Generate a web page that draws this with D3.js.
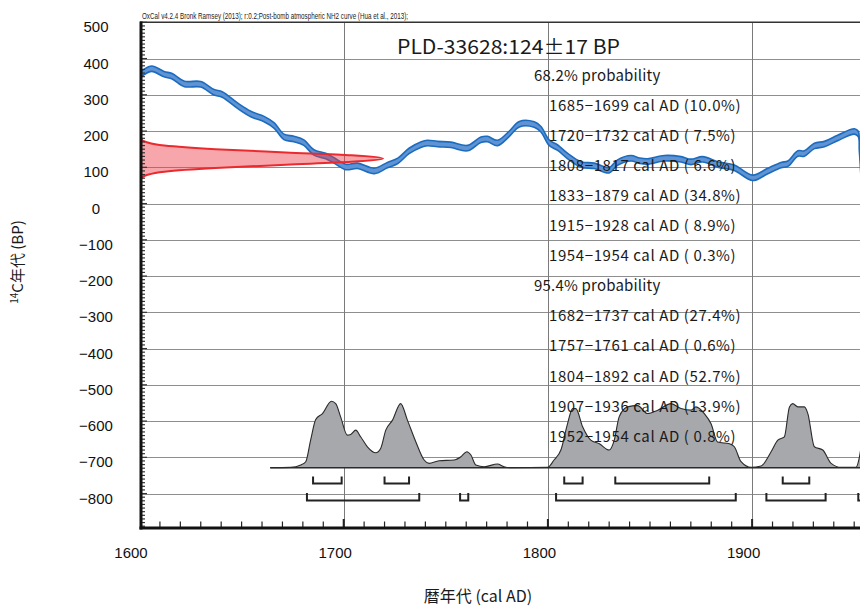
<!DOCTYPE html>
<html>
<head>
<meta charset="utf-8">
<title>OxCal PLD-33628</title>
<script src="https://cdn.jsdelivr.net/npm/d3@7/dist/d3.min.js"></script>
<style>
  body { margin: 0; background: #fff; }
  svg { display: block; }
  .grid { stroke: #8e8e8e; stroke-width: 1px; }
  .vgrid { stroke: #7a7a7a; stroke-width: 1px; }
  .ticklab { font-family: "Liberation Sans", Arial, sans-serif; font-size: 15px; fill: #111; }
  .jp { font-family: "Noto Sans CJK JP", "Liberation Sans", sans-serif; fill: #1a1a1a; }
</style>
</head>
<body>
<div id="chart"></div>
<script>
// ---------------- data ----------------
var headerText = "OxCal v4.2.4 Bronk Ramsey (2013); r:0.2;Post-bomb atmospheric NH2 curve (Hua et al., 2013);";
var titleText = "PLD-33628:124\u00b117 BP";

var yTicks = [500, 400, 300, 200, 100, 0, -100, -200, -300, -400, -500, -600, -700, -800];
var xTicks = [1600, 1700, 1800, 1900];

// calibration curve (cal AD, 14C BP)
var curveYears = [1600, 1602, 1606, 1612, 1616, 1622, 1630, 1636.5, 1640.5, 1648, 1654.5, 1661, 1666, 1670.7,
  1675.6, 1680.5, 1685.4, 1691.2, 1695.3, 1701, 1706.7, 1715, 1721.4, 1726.5, 1732, 1738, 1741, 1746, 1752.5,
  1760.6, 1767.2, 1770.4, 1775.3, 1781, 1786, 1793.3, 1796.6, 1800.6, 1804.8, 1809.7, 1816.2, 1822.7, 1830,
  1834.1, 1840.7, 1845, 1848.8, 1857, 1865.2, 1870, 1875.8, 1883.1, 1891.3, 1900.3, 1907.7, 1914.2, 1917.5,
  1922.4, 1925.6, 1930.5, 1935.4, 1941.9, 1950.1, 1952, 1952.5, 1953.5, 1955];
var curveBP = [352, 362, 372, 357, 351, 330, 329, 307, 301, 270, 247, 233, 215, 184,
  178, 168, 141, 131, 119, 101, 104, 90, 106, 118, 145, 163, 167, 164, 162,
  153, 176, 178, 167, 192, 219, 218, 205, 168, 154, 131, 108, 104, 92,
  113, 125, 118, 116, 125, 122, 115, 122, 108, 99, 71, 90, 106, 110,
  138, 138, 159, 164, 181, 199, 192, 154, 60, -200];
var curveErr = 7.5;

var dateBP   = [180, 170, 160, 150, 141, 133, 124, 115, 107, 98, 88, 78, 68];
var dateProb = [0, 0.025, 0.1, 0.31, 0.6, 0.87, 1, 0.87, 0.6, 0.31, 0.1, 0.025, 0];

// calibrated probability (cal AD, relative height)
var calYears = [1664, 1674, 1679, 1681.4, 1683.8, 1686.3, 1689.6, 1694, 1696.1, 1698.5, 1701.8, 1703.4, 1705.9,
  1708.3, 1711.6, 1715.7, 1718.1, 1720.6, 1723.9, 1727.9, 1731.2, 1735.3, 1739.4, 1741.8, 1746.7, 1754, 1757.4,
  1760.3, 1762.3, 1764.7, 1768.8, 1775.3, 1778.5, 1782, 1799.8, 1803, 1806.4, 1809.6, 1812.1, 1813.7, 1817,
  1821, 1825.2, 1830, 1832.5, 1834.9, 1839, 1843.9, 1848.8, 1853.8, 1860.3, 1865.2, 1870.1, 1872.5, 1876.6,
  1879.9, 1883.1, 1888.9, 1891.3, 1894.6, 1899.5, 1904.4, 1909.3, 1912.6, 1915.8, 1918.3, 1919.9, 1922.4,
  1925.6, 1927.3, 1930.5, 1934.6, 1938.7, 1943.6, 1950.9, 1952.6, 1953.5, 1955];
var calProb = [0, 0.3, 2.7, 6, 27.7, 48.3, 54.3, 66.7, 64.3, 51, 32.7, 33.3, 37.7,
  31, 21, 15, 19.3, 37.7, 47.7, 64.3, 47.7, 26, 7.7, 4.3, 7, 7.7, 11,
  16, 12.7, 2.7, 1, 3.7, 1, 0, 0.3, 7.7, 18, 44, 59.3, 59.3, 41,
  27.7, 24, 17.7, 27.7, 51, 61, 62.3, 54.3, 57.7, 64.3, 59.3, 57.7, 61, 54.3,
  44, 25.7, 24, 21, 6, 0.3, 1.7, 16, 27.7, 31, 61, 64.3, 61,
  61, 54.3, 21, 17.7, 4.3, 0.3, 0.3, 11, 22, 30];

var ranges68 = [[1685, 1699], [1720, 1732], [1808, 1817], [1833, 1879], [1915, 1928], [1954, 1954]];
var ranges95 = [[1682, 1737], [1757, 1761], [1804, 1892], [1907, 1936], [1952, 1954]];

var lines68 = ["1685\u22121699 cal AD (10.0%)", "1720\u22121732 cal AD ( 7.5%)", "1808\u22121817 cal AD ( 6.6%)",
  "1833\u22121879 cal AD (34.8%)", "1915\u22121928 cal AD ( 8.9%)", "1954\u22121954 cal AD ( 0.3%)"];
var lines95 = ["1682\u22121737 cal AD (27.4%)", "1757\u22121761 cal AD ( 0.6%)", "1804\u22121892 cal AD (52.7%)",
  "1907\u22121936 cal AD (13.9%)", "1952\u22121954 cal AD ( 0.8%)"];

// ---------------- chart ----------------
var W = 860, H = 606;
var plotL = 140, plotT = 22.3, plotB = 528;

var x = d3.scaleLinear().domain([1600, 1960]).range([139.5, 139.5 + 360 * 2.042]);
var y = d3.scaleLinear().domain([-895, 500]).range([plotB, plotT]);

var svg = d3.select("#chart").append("svg")
  .attr("width", W).attr("height", H);

svg.append("defs").append("clipPath").attr("id", "plot")
  .append("rect").attr("x", plotL).attr("y", plotT).attr("width", W - plotL).attr("height", plotB - plotT);

var plot = svg.append("g").attr("clip-path", "url(#plot)");

// grid
plot.selectAll(".grid").data(yTicks.slice(1)).enter().append("line")
  .attr("class", "grid")
  .attr("x1", plotL).attr("x2", W)
  .attr("y1", function (d) { return Math.round(y(d)) + 0.5; })
  .attr("y2", function (d) { return Math.round(y(d)) + 0.5; });
plot.selectAll(".vgrid").data(xTicks.slice(1)).enter().append("line")
  .attr("class", "vgrid")
  .attr("x1", function (d) { return Math.round(x(d)) + 0.5; })
  .attr("x2", function (d) { return Math.round(x(d)) + 0.5; })
  .attr("y1", plotT).attr("y2", plotB);

// calibrated distribution
var distBase = 467.7;
var h = d3.scaleLinear().domain([0, 66.7]).range([0, 66.5]);
var calPts = calYears.map(function (d, i) { return [d, calProb[i]]; });
var distArea = d3.area()
  .x(function (d) { return x(d[0]); })
  .y0(distBase)
  .y1(function (d) { return distBase - h(d[1]); })
  .curve(d3.curveMonotoneX);
var distLine = d3.line()
  .x(function (d) { return x(d[0]); })
  .y(function (d) { return distBase - h(d[1]); })
  .curve(d3.curveMonotoneX);
plot.append("path").datum(calPts).attr("d", distArea).attr("fill", "#a7a8ac");
plot.append("path").datum(calPts).attr("d", distLine)
  .attr("fill", "none").attr("stroke", "#2a2a2a").attr("stroke-width", 1.1);
plot.append("line").attr("x1", x(calYears[0])).attr("x2", W)
  .attr("y1", distBase).attr("y2", distBase)
  .attr("stroke", "#2a2a2a").attr("stroke-width", 1.4);

// range brackets
function brackets(data, yTop, yBot) {
  plot.append("g").selectAll("path").data(data).enter().append("path")
    .attr("d", function (d) {
      var a = x(d[0]), b = x(d[1]);
      if (b - a < 3) { b = a + 3; }
      return "M" + a + "," + yTop + "V" + yBot + "H" + b + "V" + yTop;
    })
    .attr("fill", "none").attr("stroke", "#222").attr("stroke-width", 2);
}
brackets(ranges68, 476.5, 483.5);
brackets(ranges95, 493, 500.5);

// calibration curve band
var curvePts = curveYears.map(function (d, i) { return [d, curveBP[i]]; });
var band = d3.area()
  .x(function (d) { return x(d[0]); })
  .y0(function (d) { return y(d[1] - curveErr); })
  .y1(function (d) { return y(d[1] + curveErr); })
  .curve(d3.curveCatmullRom);
plot.append("path").datum(curvePts).attr("d", band)
  .attr("fill", "#5f93d4").attr("stroke", "#1b6cbf").attr("stroke-width", 1.6)
  .attr("stroke-linejoin", "round");

// measured date on the y axis
var dPts = dateBP.map(function (d, i) { return [d, dateProb[i]]; });
var dw = d3.scaleLinear().domain([0, 1]).range([plotL, 383]);
var dArea = d3.area()
  .y(function (d) { return y(d[0]); })
  .x0(plotL)
  .x1(function (d) { return dw(d[1]); })
  .curve(d3.curveMonotoneY);
var dLine = d3.line()
  .y(function (d) { return y(d[0]); })
  .x(function (d) { return dw(d[1]); })
  .curve(d3.curveMonotoneY);
plot.append("path").datum(dPts).attr("d", dArea)
  .attr("fill", "#ee3c44").attr("fill-opacity", 0.45);
plot.append("path").datum(dPts).attr("d", dLine)
  .attr("fill", "none").attr("stroke", "#ea2a2e").attr("stroke-width", 2);

// texts in plot
svg.append("text").attr("class", "jp")
  .attr("x", 397).attr("y", 53.5)
  .attr("font-size", 19.5)
  .attr("textLength", 223).attr("lengthAdjust", "spacingAndGlyphs")
  .text(titleText);

var rowY = function (i) { return 80.5 + 30.1 * i; };
var rows = [{ t: "68.2% probability", x: 534, ls: 0.2 }]
  .concat(lines68.map(function (t) { return { t: t, x: 549, ls: 0.6 }; }))
  .concat([{ t: "95.4% probability", x: 534, ls: 0.2 }])
  .concat(lines95.map(function (t) { return { t: t, x: 549, ls: 0.6 }; }));
svg.append("g").selectAll("text").data(rows).enter().append("text")
  .attr("class", "jp")
  .attr("x", function (d) { return d.x; })
  .attr("y", function (d, i) { return rowY(i); })
  .attr("font-size", 15)
  .attr("letter-spacing", function (d) { return d.ls; })
  .text(function (d) { return d.t; });

// axes
var axisG = svg.append("g");
// y minor ticks
axisG.selectAll(".ym").data(d3.range(-890, 501, 10)).enter().append("line")
  .attr("x1", plotL).attr("x2", function (d) { return plotL + (d % 100 === 0 ? 7 : 5); })
  .attr("y1", function (d) { return y(d); }).attr("y2", function (d) { return y(d); })
  .attr("stroke", "#333").attr("stroke-width", 1.2);
// x minor ticks
axisG.selectAll(".xm").data(d3.range(1610, 1961, 10)).enter().append("line")
  .attr("x1", function (d) { return x(d); }).attr("x2", function (d) { return x(d); })
  .attr("y1", plotB).attr("y2", function (d) { return plotB - (d % 100 === 0 ? 9 : 6.5); })
  .attr("stroke", "#222").attr("stroke-width", function (d) { return d % 100 === 0 ? 2 : 1.2; });

// frame
axisG.append("line").attr("x1", plotL).attr("x2", W).attr("y1", plotT).attr("y2", plotT)
  .attr("stroke", "#333").attr("stroke-width", 1.5);
axisG.append("line").attr("x1", 141).attr("x2", 141).attr("y1", plotT - 0.7).attr("y2", plotB + 1.5)
  .attr("stroke", "#111").attr("stroke-width", 3);
axisG.append("line").attr("x1", 139.5).attr("x2", W).attr("y1", plotB).attr("y2", plotB)
  .attr("stroke", "#111").attr("stroke-width", 3);

// tick labels
var fmt = d3.format("d");
svg.append("g").selectAll("text").data(yTicks).enter().append("text")
  .attr("class", "ticklab")
  .attr("x", 96)
  .attr("y", function (d) { return y(d) + 10; })
  .attr("text-anchor", "middle")
  .text(function (d) { return fmt(d); });
svg.append("g").selectAll("text").data(xTicks).enter().append("text")
  .attr("class", "ticklab")
  .attr("x", function (d) { return x(d) - 8.5; })
  .attr("y", 558)
  .attr("text-anchor", "middle")
  .text(function (d) { return d; });

// header
svg.append("text")
  .attr("x", 142).attr("y", 19)
  .attr("font-family", "Liberation Sans, Arial, sans-serif")
  .attr("font-size", 9.5).attr("fill", "#222")
  .attr("textLength", 266).attr("lengthAdjust", "spacingAndGlyphs")
  .text(headerText);

// axis titles
svg.append("text").attr("class", "jp")
  .attr("x", 478).attr("y", 602)
  .attr("text-anchor", "middle").attr("font-size", 16)
  .text("暦年代 (cal AD)");

var yt = svg.append("text").attr("class", "jp")
  .attr("transform", "translate(23,262) rotate(-90)")
  .attr("text-anchor", "middle").attr("font-size", 15);
yt.append("tspan").attr("font-size", 10).attr("dy", -5).text("14");
yt.append("tspan").attr("dy", 5).text("C年代 (BP)");
</script>
</body>
</html>
